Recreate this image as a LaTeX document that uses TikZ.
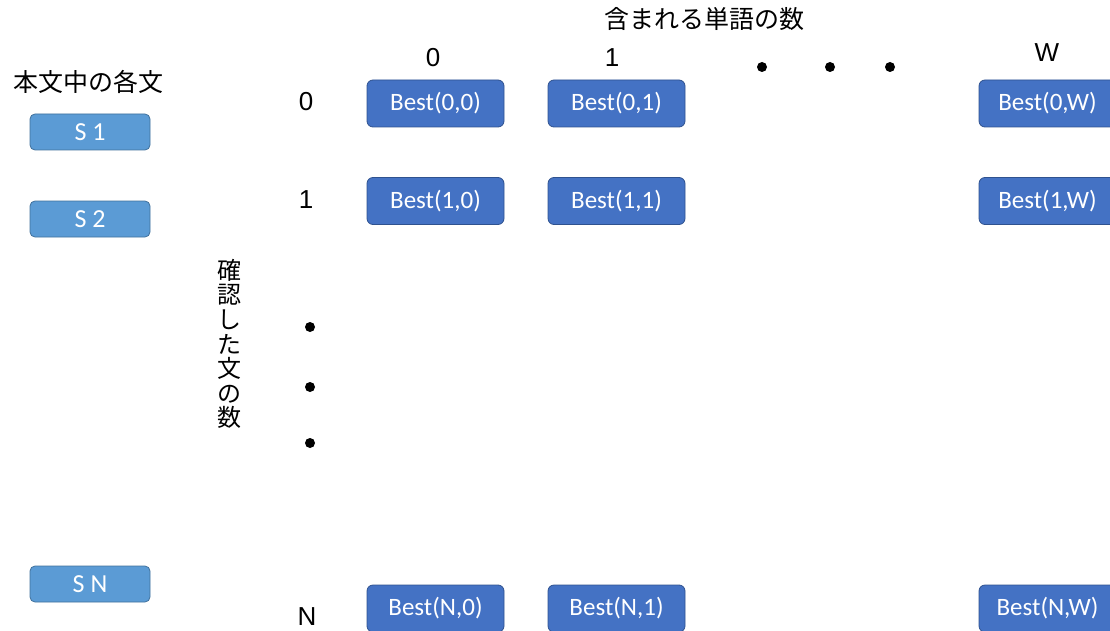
\documentclass[tikz,border=0pt]{standalone}
\usepackage{fontspec}
\setmainfont{Noto Sans CJK JP}
\newfontfamily\boxfont{Carlito}
\newfontfamily\lblfont{Liberation Sans}
\definecolor{bestfill}{HTML}{4472C4}
\definecolor{bestdraw}{HTML}{2F528F}
\definecolor{sfill}{HTML}{5B9BD5}
\definecolor{sdraw}{HTML}{41719C}
\tikzset{
  best/.style={draw=bestdraw, fill=bestfill, rounded corners=6pt, minimum width=137pt, minimum height=47pt, text=white, font=\boxfont\fontsize{25}{25}\selectfont, inner sep=0pt, line width=0.8pt},
  sbox/.style={draw=sdraw, fill=sfill, rounded corners=5pt, minimum width=120pt, minimum height=36pt, text=white, font=\boxfont\fontsize{26}{26}\selectfont, inner sep=0pt, line width=0.8pt},
  lbl/.style={font=\lblfont\fontsize{26}{26}\selectfont, inner sep=0pt},
  jp/.style={font=\fontsize{25}{25}\selectfont, inner sep=0pt},
  dot/.style={circle, fill=black, minimum size=10pt, inner sep=0pt}
}
\begin{document}
\begin{tikzpicture}[x=1pt,y=-1pt]
\useasboundingbox (0,0) rectangle (1110,631);
\node[jp] (title) at (704,19) {含まれる単語の数};
\node[jp] (left) at (88,82) {本文中の各文};
\node[sbox] (s1) at (90,132) {S 1};
\node[sbox] (s2) at (90,219) {S 2};
\node[sbox] (sn) at (90,584) {S N};
\node[lbl] (c0) at (433,58) {0};
\node[lbl] (c1) at (612,58) {1};
\node[lbl] (cw) at (1047,53) {W};
\node[dot] (hd1) at (762,67) {};
\node[dot] (hd2) at (830,67) {};
\node[dot] (hd3) at (890,67) {};
\node[lbl] (r0) at (306,102) {0};
\node[lbl] (r1) at (306,200) {1};
\node[lbl] (rn) at (307,617) {N};
\node[align=center, inner sep=0pt, font=\fontsize{24}{24.6}\selectfont] (vert) at (229,344) {確\\認\\し\\た\\文\\の\\数};
\node[dot] (vd1) at (310,327) {};
\node[dot] (vd2) at (310,387) {};
\node[dot] (vd3) at (310,443) {};
\node[best] (b00) at (435.5,103.5) {Best(0,0)};
\node[best] (b01) at (616.5,103.5) {Best(0,1)};
\node[best] (b0w) at (1047.5,103.5) {Best(0,W)};
\node[best] (b10) at (435.5,201) {Best(1,0)};
\node[best] (b11) at (616.5,201) {Best(1,1)};
\node[best] (b1w) at (1047.5,201) {Best(1,W)};
\node[best] (bn0) at (435.5,608.5) {Best(N,0)};
\node[best] (bn1) at (616.5,608.5) {Best(N,1)};
\node[best] (bnw) at (1047.5,608.5) {Best(N,W)};
\end{tikzpicture}
\end{document}
